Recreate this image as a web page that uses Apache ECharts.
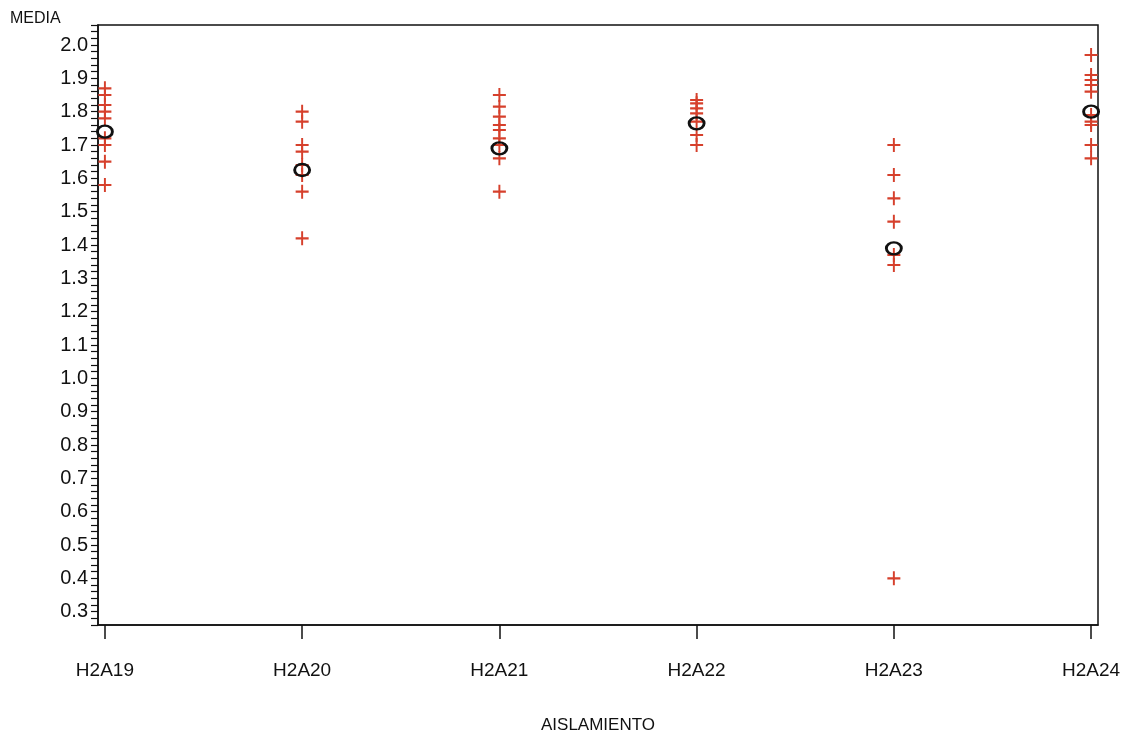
<!DOCTYPE html>
<html>
<head>
<meta charset="utf-8">
<script src="https://cdn.jsdelivr.net/npm/echarts@6/dist/echarts.min.js"></script>
<style>html,body{margin:0;padding:0;background:#fff}#c{width:1134px;height:739px}</style>
</head>
<body>
<div id="c"></div>
<script>
// Categories (AISLAMIENTO)
var categories = ['H2A19', 'H2A20', 'H2A21', 'H2A22', 'H2A23', 'H2A24'];
// Individual observations (+) per category
var obsH2A19 = [1.87, 1.85, 1.82, 1.80, 1.78, 1.72, 1.70, 1.65, 1.58];
var obsH2A20 = [1.80, 1.77, 1.70, 1.68, 1.64, 1.61, 1.56, 1.42];
var obsH2A21 = [1.85, 1.815, 1.785, 1.76, 1.745, 1.72, 1.70, 1.66, 1.56];
var obsH2A22 = [1.835, 1.825, 1.81, 1.795, 1.77, 1.73, 1.70];
var obsH2A23 = [1.70, 1.61, 1.54, 1.47, 1.37, 1.34, 0.40];
var obsH2A24 = [1.97, 1.91, 1.895, 1.88, 1.86, 1.79, 1.77, 1.76, 1.70, 1.66];
// Means (o) per category
var means = [1.74, 1.625, 1.69, 1.765, 1.39, 1.80];
// Y tick labels
var yTickLabels = ['0.3','0.4','0.5','0.6','0.7','0.8','0.9','1.0','1.1','1.2','1.3','1.4','1.5','1.6','1.7','1.8','1.9','2.0'];

var obsAll = [obsH2A19, obsH2A20, obsH2A21, obsH2A22, obsH2A23, obsH2A24];
var plusData = [];
obsAll.forEach(function (arr, i) { arr.forEach(function (v) { plusData.push([i, v]); }); });
var meanData = means.map(function (v, i) { return [i, v]; });
var catIdx = categories.map(function (c, i) { return i; });

var FONT = 'Liberation Sans';
var chart = echarts.init(document.getElementById('c'));
chart.setOption({
  animation: false,
  backgroundColor: '#ffffff',
  grid: { left: 98, right: 36, top: 25, bottom: 114, show: true, borderColor: '#111', borderWidth: 1.5, backgroundColor: 'transparent' },
  xAxis: {
    type: 'value', min: -0.035, max: 5.035,
    splitLine: { show: false },
    axisLine: { show: true, onZero: false, lineStyle: { color: '#111', width: 1.5 } },
    axisTick: { show: true, customValues: catIdx, length: 14, lineStyle: { color: '#111', width: 1.5 } },
    axisLabel: { customValues: catIdx, margin: 36, fontFamily: FONT, fontSize: 19, color: '#111',
      formatter: function (v) { return categories[Math.round(v)]; } },
    name: 'AISLAMIENTO', nameLocation: 'middle', nameGap: 92,
    nameTextStyle: { fontFamily: FONT, fontSize: 17, color: '#111' }
  },
  yAxis: {
    type: 'value', min: 0.26, max: 2.06, interval: 0.02,
    splitLine: { show: false },
    axisLine: { show: true, onZero: false, lineStyle: { color: '#111', width: 1.5 } },
    axisTick: { show: true, inside: false, length: 7, lineStyle: { color: '#111', width: 1.2 } },
    axisLabel: { margin: 10, fontFamily: FONT, fontSize: 20, color: '#111',
      formatter: function (v) {
        var k = Math.round(v * 10);
        if (Math.abs(v * 10 - k) > 1e-6) return '';
        var idx = k - 3;
        return (idx >= 0 && idx < yTickLabels.length) ? yTickLabels[idx] : '';
      } }
  },
  graphic: [{ type: 'text', left: 10, top: 11, style: { text: 'MEDIA', fontFamily: FONT, fontSize: 16, fill: '#111' } }],
  series: [
    { type: 'scatter', data: plusData, symbol: 'path://M5.1,0H6.9V12H5.1ZM0,5.1H12V6.9H0Z', symbolSize: [13, 14],
      itemStyle: { color: '#d6402c', opacity: 1 }, z: 2 },
    { type: 'scatter', data: meanData, symbol: 'circle', symbolSize: [15, 12],
      itemStyle: { color: 'transparent', borderColor: '#111', borderWidth: 2.6, opacity: 1 }, z: 3 }
  ]
});
</script>
</body>
</html>
